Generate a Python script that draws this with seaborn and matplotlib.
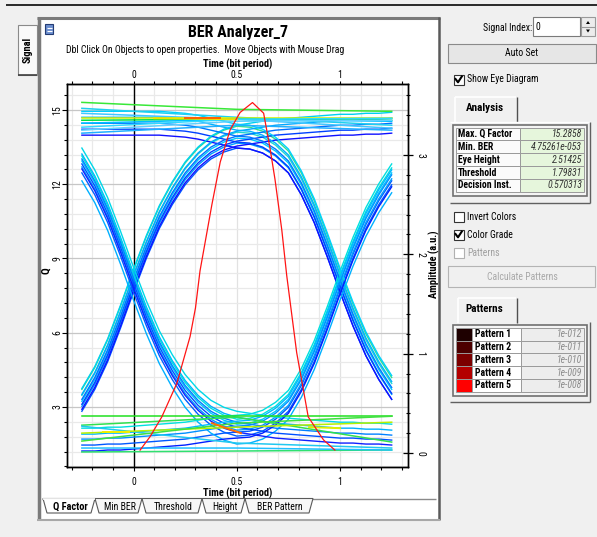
import matplotlib
matplotlib.use("Agg")
import matplotlib.pyplot as plt
import seaborn as sns
import pandas as pd
from matplotlib.patches import Rectangle, Polygon
from matplotlib.ticker import MultipleLocator, FixedLocator, FuncFormatter
from matplotlib import font_manager as fm

# ---------------- texts ----------------
title = "BER Analyzer_7"
subtitle = "Dbl Click On Objects to open properties.  Move Objects with Mouse Drag"
x_label = "Time (bit period)"
q_label = "Q"
amp_label = "Amplitude (a.u.)"
bottom_tabs = ["Q Factor", "Min BER", "Threshold", "Height", "BER Pattern"]

time_ticks = [0, 0.5, 1]
q_ticks = [3, 6, 9, 12, 15]
amp_ticks = [0, 1, 2, 3]

analysis_labels = ["Max. Q Factor", "Min. BER", "Eye Height", "Threshold", "Decision Inst."]
analysis_values = ["15.2858", "4.75261e-053", "2.51425", "1.79831", "0.570313"]
pattern_names = ["Pattern 1", "Pattern 2", "Pattern 3", "Pattern 4", "Pattern 5"]
pattern_values = ["1e-012", "1e-011", "1e-010", "1e-009", "1e-008"]
pattern_colors = ["#1e0000", "#4c0000", "#7c0000", "#b40000", "#ff0000"]

# ---------------- Q factor curve ----------------
q_time = [0.032, 0.08, 0.137, 0.21, 0.274, 0.30, 0.322, 0.38, 0.42, 0.468, 0.516, 0.576,
          0.63, 0.66, 0.685, 0.718, 0.742, 0.79, 0.846, 0.92, 0.975]
q_value = [1.26, 1.8, 2.6, 3.96, 5.85, 7.0, 8.5, 11.2, 12.9, 14.2, 14.9, 15.3,
           14.87, 13.5, 12.2, 10.15, 8.3, 5.2, 2.6, 1.67, 1.26]

# ---------------- eye diagram traces (amplitude, a.u.) ----------------
eye_time = [-0.25, -0.1875, -0.125, -0.0625, 0.0, 0.0625, 0.125, 0.1875, 0.25, 0.3125, 0.375,
            0.4375, 0.5, 0.5625, 0.625, 0.6875, 0.75, 0.8125, 0.875, 0.9375, 1.0, 1.0625,
            1.125, 1.1875, 1.25]
rise_fall = [0.52, 0.74, 1.02, 1.36, 1.72, 2.06, 2.36, 2.60, 2.80, 2.95, 3.06, 3.13, 3.17,
             3.16, 3.12, 3.04, 2.92, 2.70, 2.42, 2.08, 1.72, 1.38, 1.08, 0.84, 0.64]
rise_stay = [0.52, 0.74, 1.02, 1.36, 1.72, 2.06, 2.36, 2.60, 2.80, 2.95, 3.06, 3.13, 3.17,
             3.19, 3.21, 3.23, 3.24, 3.25, 3.26, 3.27, 3.28, 3.28, 3.29, 3.29, 3.30]
fall_rise = [2.92, 2.70, 2.42, 2.08, 1.72, 1.38, 1.08, 0.84, 0.64, 0.49, 0.38, 0.31, 0.27,
             0.28, 0.32, 0.40, 0.52, 0.74, 1.02, 1.36, 1.72, 2.06, 2.36, 2.60, 2.80]
fall_stay = [2.92, 2.70, 2.42, 2.08, 1.72, 1.38, 1.08, 0.84, 0.64, 0.49, 0.38, 0.31, 0.27,
             0.25, 0.23, 0.21, 0.20, 0.19, 0.18, 0.17, 0.16, 0.16, 0.15, 0.15, 0.14]
high_fall = [3.30, 3.30, 3.30, 3.30, 3.30, 3.30, 3.30, 3.29, 3.28, 3.26, 3.23, 3.20, 3.17,
             3.16, 3.12, 3.04, 2.92, 2.70, 2.42, 2.08, 1.72, 1.38, 1.08, 0.84, 0.64]
low_rise = [0.14, 0.14, 0.15, 0.15, 0.16, 0.17, 0.18, 0.19, 0.20, 0.22, 0.24, 0.26, 0.27,
            0.28, 0.32, 0.40, 0.52, 0.74, 1.02, 1.36, 1.72, 2.06, 2.36, 2.60, 2.80]

eye_shapes = {"rise_fall": rise_fall, "rise_stay": rise_stay, "fall_rise": fall_rise,
              "fall_stay": fall_stay, "high_fall": high_fall, "low_rise": low_rise}
eye_offsets = {
    "rise_fall": [-0.10, -0.05, 0.0, 0.06, 0.12],
    "rise_stay": [-0.08, -0.03, 0.02, 0.07, 0.13],
    "fall_rise": [-0.18, -0.10, -0.04, 0.02, 0.07],
    "fall_stay": [-0.06, -0.01, 0.04, 0.09, 0.15],
    "high_fall": [-0.10, -0.04, 0.02, 0.08, 0.14],
    "low_rise": [-0.12, -0.06, 0.0, 0.05, 0.11],
}
eye_colors = {
    "rise_fall": ["#0058ff", "#00a0ff", "#00c8ff", "#20d8d0", "#30e090"],
    "rise_stay": ["#1010ff", "#0040ff", "#0070ff", "#00a8ff", "#00d0f0"],
    "fall_rise": ["#00b0ff", "#0060ff", "#00a0ff", "#00c8ff", "#00e0e0"],
    "fall_stay": ["#1020ff", "#0050ff", "#0080ff", "#00b0ff", "#00d8e8"],
    "high_fall": ["#1010ff", "#0040ff", "#0078ff", "#00b0ff", "#00d0ff"],
    "low_rise": ["#0020ff", "#0058ff", "#0090ff", "#00b8ff", "#00e0e0"],
}

rail_time = [-0.25, 0.5, 1.25]
rail_amps = [
    [3.53, 3.46, 3.44], [3.47, 3.38, 3.30], [3.42, 3.36, 3.27], [3.37, 3.37, 3.37],
    [3.35, 3.36, 3.35], [3.32, 3.36, 3.34], [3.28, 3.36, 3.37], [3.25, 3.34, 3.35],
    [3.22, 3.30, 3.25],
    [0.37, 0.37, 0.37], [0.28, 0.36, 0.11], [0.27, 0.10, 0.05], [0.20, 0.26, 0.31],
    [0.12, 0.30, 0.37], [0.01, 0.02, 0.03], [0.05, 0.05, 0.03],
]
rail_colors = ["#38e838", "#20d0f0", "#40c8ff", "#d0f000", "#00e040", "#00c0ff", "#30d8ff",
               "#60d0ff", "#20b0ff",
               "#20e020", "#30e050", "#20c8f0", "#b8f000", "#40e040", "#30e070", "#20c0ff"]

hot_time = [[0.10, 0.50], [0.25, 0.42], [0.38, 0.52], [-0.15, -0.02], [0.85, 1.0]]
hot_amps = [[3.37, 3.36], [3.37, 3.37], [0.30, 0.20], [0.21, 0.21], [0.26, 0.25]]
hot_colors = ["#f0e000", "#ff6000", "#ff7000", "#f0f000", "#e0f000"]

# ---------------- fonts ----------------
names = {f.name for f in fm.fontManager.ttflist}
UIFONT = "Liberation Sans"
for cand in ["Liberation Sans Narrow", "Arial Narrow", "Roboto Condensed"]:
    if cand in names:
        UIFONT = cand
        break
plt.rcParams["font.family"] = [UIFONT, "DejaVu Sans"]

W, H = 597, 537
fig = plt.figure(figsize=(W / 100, H / 100), dpi=100, facecolor="#f0f0f0")

# ---------------- GUI overlay (pixel coordinates) ----------------
ui = fig.add_axes([0, 0, 1, 1])
ui.set_xlim(0, W)
ui.set_ylim(H, 0)
ui.axis("off")
ui.set_zorder(0)


def rect(x0, y0, x1, y1, fc="none", ec="none", lw=1.0, z=1):
    ui.add_patch(Rectangle((x0, y0), x1 - x0, y1 - y0, facecolor=fc, edgecolor=ec,
                           linewidth=lw, zorder=z))


def text(x, y, s, size=7, weight="normal", style="normal", color="black", ha="left",
         va="center", rot=0):
    ui.text(x, y, s, fontsize=size, fontweight=weight, fontstyle=style, color=color,
            ha=ha, va=va, rotation=rot, zorder=6)


def seg(xs, ys, color, lw=1.0, z=2):
    ui.plot(xs, ys, color=color, lw=lw, zorder=z, solid_capstyle="butt")


seg([6, W], [5, 5], "#1a1a1a", 1.3)

# main panel
rect(38, 18, 440, 520, fc="white", ec="none")
seg([38.5, 38.5], [17, 520], "#7a7a7a", 2.5)
seg([37, 440], [18, 18], "#7a7a7a", 2.2)
seg([439, 439], [17, 520], "#5a5a5a", 1.8)
seg([37, 440], [519.5, 519.5], "#a8a8a8", 1.5)
rect(45, 24, 53, 34, fc="#6d8fd0", ec="#243c74", lw=0.8, z=3)
seg([46.5, 51.5], [28, 28], "white", 0.8, z=4)
seg([46.5, 51.5], [31, 31], "white", 0.8, z=4)

# left Signal tab
rect(18, 25, 37, 75, fc="#fafafa", ec="#8a8a8a", lw=0.8, z=2)
seg([18, 37], [75, 75], "#404040", 1.2, z=3)
text(27.5, 50, "Signal", size=7.5, weight="bold", ha="center", rot=90)

# titles
text(238.5, 33, title, size=11.5, weight="bold", ha="center")
text(205, 50, subtitle, size=7, ha="center")

# bottom tabs
tab_x = [43, 95, 142, 202, 245, 313]
seg([42, 436], [498.5, 498.5], "#8a8a8a", 1.0)
for i in range(len(bottom_tabs) - 1, -1, -1):
    x0, x1 = tab_x[i], tab_x[i + 1]
    fc = "white" if i == 0 else "#f7f7f7"
    ui.add_patch(Polygon([(x0, 498.5), (x0 + 4, 513), (x1 - 4, 513), (x1, 498.5)],
                         closed=True, facecolor=fc, edgecolor="#5a5a5a", lw=0.8, zorder=3))
    text((x0 + x1) / 2 + 1, 506.5, bottom_tabs[i], size=7.5 if i == 0 else 7,
         weight="bold" if i == 0 else "normal", ha="center")
seg([43, 95], [498.5, 498.5], "white", 1.2, z=4)

# right panel
text(532, 28, "Signal Index:", size=7, ha="right")
rect(533, 17, 580, 36, fc="white", ec="#7a7a7a", lw=0.8)
text(535.5, 27, "0", size=7)
rect(581, 17, 595, 36, fc="#ececec", ec="#9a9a9a", lw=0.8)
seg([581, 595], [26.5, 26.5], "#9a9a9a", 0.8)
ui.add_patch(Polygon([(586, 24), (590, 24), (588, 21)], closed=True, fc="black", zorder=3))
ui.add_patch(Polygon([(586, 29.5), (590, 29.5), (588, 32.5)], closed=True, fc="black", zorder=3))

rect(448, 44, 596, 63, fc="#e6e6e6", ec="#8a8a8a", lw=0.8)
text(522, 53.5, "Auto Set", size=7, ha="center")


def checkbox(y, label, checked, enabled=True):
    ec = "#333333" if enabled else "#b0b0b0"
    rect(453.5, y - 5, 463.5, y + 5, fc="white", ec=ec, lw=0.8, z=3)
    if checked:
        ui.plot([455.5, 458, 461.8], [y - 0.5, y + 2.8, y - 3], color="black", lw=1.5, zorder=4)
    text(467, y, label, size=7, color="black" if enabled else "#a0a0a0")


checkbox(79.5, "Show Eye Diagram", True)

# Analysis tab + table
seg([455, 455], [122, 97], "white", 1.2)
seg([455, 516], [97, 97], "white", 1.2)
seg([516.5, 516.5], [97, 122], "#505050", 1.0)
text(485, 108, "Analysis", size=8, weight="bold", ha="center")
seg([450, 590], [122, 122], "white", 1.0)
seg([589.5, 589.5], [122, 203], "#606060", 1.0)
seg([450, 590], [202.5, 202.5], "#606060", 1.0)
rect(453, 125, 587, 196, fc="#f4f4f4", ec="#707070", lw=1.2)
row_top = [127.5, 140.3, 153.1, 165.9, 178.7]
for i, (lab, val) in enumerate(zip(analysis_labels, analysis_values)):
    y0 = row_top[i]
    rect(456, y0, 520, y0 + 12.8, fc="#fbfbfb", ec="#9a9a9a", lw=0.7)
    rect(520, y0, 584, y0 + 12.8, fc="#e6f6dc", ec="#9a9a9a", lw=0.7)
    text(458, y0 + 6.6, lab, size=7, weight="bold")
    text(582, y0 + 6.6, val, size=7, style="italic", color="#303030", ha="right")

checkbox(216.5, "Invert Colors", False)
checkbox(234.5, "Color Grade", True)
checkbox(252.5, "Patterns", False, enabled=False)
rect(448, 266, 595, 287, fc="#f0f0f0", ec="#b4b4b4", lw=0.8)
text(522, 276.5, "Calculate Patterns", size=7, ha="center", color="#a8a8a8")

# Patterns tab + table
seg([458, 458], [323, 298], "white", 1.2)
seg([458, 516], [298, 298], "white", 1.2)
seg([516.5, 516.5], [298, 323], "#505050", 1.0)
text(484, 309, "Patterns", size=8, weight="bold", ha="center")
seg([589.5, 589.5], [322, 402], "#606060", 1.0)
seg([450, 590], [401.5, 401.5], "#606060", 1.0)
rect(453, 325, 587, 396, fc="#f4f4f4", ec="#707070", lw=1.2)
prow_top = [327.7, 340.5, 353.3, 366.1, 378.9]
for i, (nm, val, col) in enumerate(zip(pattern_names, pattern_values, pattern_colors)):
    y0 = prow_top[i]
    rect(455.5, y0, 472, y0 + 12.8, fc=col, ec="#9a9a9a", lw=0.7)
    rect(472, y0, 521, y0 + 12.8, fc="white", ec="#9a9a9a", lw=0.7)
    rect(521, y0, 584, y0 + 12.8, fc="#ededed", ec="#9a9a9a", lw=0.7)
    text(475, y0 + 6.6, nm, size=7, weight="bold")
    text(582, y0 + 6.6, val, size=7, style="italic", color="#8a8a8a", ha="right")

# ---------------- plot axes ----------------
L, R, T, B = 67, 408, 84, 467
ax = fig.add_axes([L / W, 1 - B / H, (R - L) / W, (B - T) / H])
ax.set_zorder(1)
ax.set_facecolor("white")
ax2 = ax.twinx()
ax2.set_zorder(2)
ax3 = ax.twinx()
ax3.set_zorder(3)

# eye traces
rows = []
for pname, shape in eye_shapes.items():
    for k, (off, col) in enumerate(zip(eye_offsets[pname], eye_colors[pname])):
        for t, a in zip(eye_time, shape):
            rows.append({"t": t, "amp": a + off, "trace": f"{pname}{k}", "color": col})
eye_df = pd.DataFrame(rows)

rail_rows = []
for k, (amps, col) in enumerate(zip(rail_amps, rail_colors)):
    for t, a in zip(rail_time, amps):
        rail_rows.append({"t": t, "amp": a, "trace": f"rail{k}", "color": col})
rail_df = pd.DataFrame(rail_rows)

hot_rows = []
for k, (ts, amps, col) in enumerate(zip(hot_time, hot_amps, hot_colors)):
    for t, a in zip(ts, amps):
        hot_rows.append({"t": t, "amp": a, "trace": f"hot{k}", "color": col})
hot_df = pd.DataFrame(hot_rows)

for df, lw in [(eye_df, 1.0), (rail_df, 1.1), (hot_df, 1.4)]:
    sns.lineplot(data=df, x="t", y="amp", units="trace", hue="color",
                 palette={c: c for c in df["color"].unique()}, estimator=None,
                 legend=False, lw=lw, sort=False, ax=ax2)

sns.lineplot(x=q_time, y=q_value, color="#ff1414", lw=0.9, sort=False, ax=ax3)

XMIN, XMAX = -0.322, 1.329
QMIN, QMAX = 0.576, 16.05
AMIN, AMAX = -0.141, 3.715
ax.set_xlim(XMIN, XMAX)
ax.set_ylim(QMIN, QMAX)
ax2.set_ylim(AMIN, AMAX)
ax3.set_ylim(QMIN, QMAX)
ax3.axis("off")

ax.axvline(0, color="black", lw=1.0, zorder=1)

fmt = FuncFormatter(lambda v, p: f"{v + 0:g}")
# Q axis (left)
ax.yaxis.set_major_locator(FixedLocator(q_ticks))
ax.yaxis.set_minor_locator(MultipleLocator(0.6))
ax.yaxis.set_major_formatter(fmt)
ax.tick_params(axis="y", which="major", direction="out", length=3.5, width=0.8, pad=0,
               labelsize=7, labelrotation=90, left=True, right=False)
ax.tick_params(axis="y", which="minor", direction="out", length=2, width=0.8, left=True, right=False)
for lab in ax.get_yticklabels():
    lab.set_va("center")
ax.set_ylabel(q_label, fontsize=8, fontweight="bold")
ax.yaxis.set_label_coords(-0.045, 0.514)

# bottom time axis
ax.xaxis.set_major_locator(FixedLocator(time_ticks))
ax.xaxis.set_minor_locator(MultipleLocator(0.1))
ax.xaxis.set_major_formatter(fmt)
ax.tick_params(axis="x", which="major", direction="out", length=3, width=0.8, pad=4, labelsize=7)
ax.tick_params(axis="x", which="minor", direction="out", length=2, width=0.8)
ax.set_xlabel(x_label, fontsize=7.5, fontweight="bold", labelpad=0.5)

# grid
ax.set_axisbelow(True)
ax.grid(True, which="minor", color="#e9e9e9", lw=0.9)
ax.grid(True, which="major", axis="y", color="#c6c6c6", lw=0.9)
ax.grid(True, which="major", axis="x", color="#e2e2e2", lw=0.9)

# top time axis
sec = ax.secondary_xaxis("top")
sec.xaxis.set_major_locator(FixedLocator(time_ticks))
sec.xaxis.set_minor_locator(MultipleLocator(0.1))
sec.xaxis.set_major_formatter(fmt)
sec.tick_params(axis="x", which="major", direction="out", length=2.5, width=0.8, pad=0.5, labelsize=7)
sec.tick_params(axis="x", which="minor", direction="out", length=2.5, width=0.8)
sec.set_xlabel(x_label, fontsize=7.5, fontweight="bold", labelpad=1.5)

# amplitude axis (right)
ax2.yaxis.set_major_locator(FixedLocator(amp_ticks))
ax2.yaxis.set_minor_locator(MultipleLocator(0.2))
ax2.yaxis.set_major_formatter(fmt)
ax2.tick_params(axis="y", which="major", direction="inout", length=7, width=0.9, pad=2,
                labelsize=7, labelrotation=-90)
ax2.tick_params(axis="y", which="minor", direction="inout", length=3.5, width=0.8)
for lab in ax2.get_yticklabels():
    lab.set_va("center")
ax2.set_ylabel(amp_label, fontsize=7.5, fontweight="bold")
ax2.yaxis.set_label_coords(1.062, 0.53)

for a in (ax, ax2):
    for sp in a.spines.values():
        sp.set_color("black")
        sp.set_linewidth(1.0)

fig.savefig("out.png", dpi=100, facecolor=fig.get_facecolor())
